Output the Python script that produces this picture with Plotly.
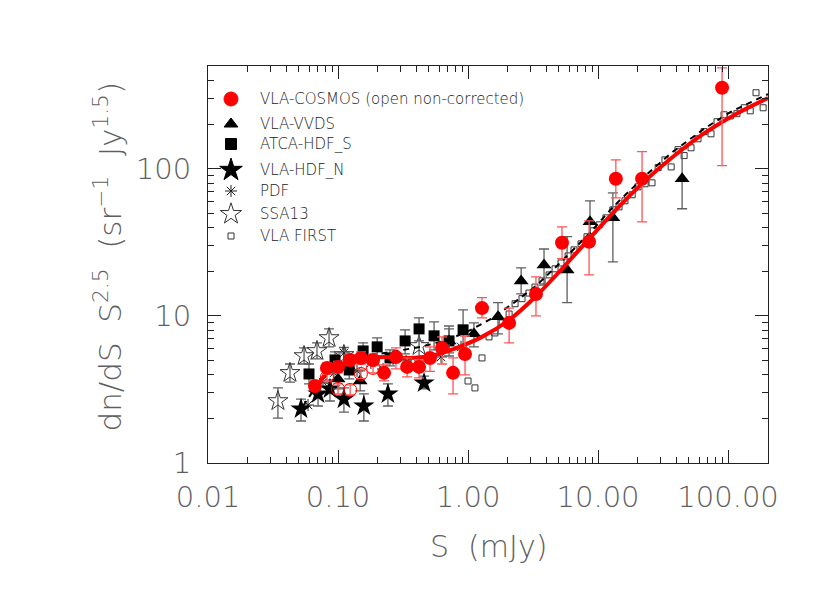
import plotly.graph_objects as go

# ---------------- data ----------------
# VLA-COSMOS, corrected (filled red circles)
cosmos_s = [0.0665, 0.0822, 0.100, 0.124, 0.150, 0.186, 0.226, 0.279, 0.340, 0.420, 0.510,
            0.631, 0.767, 0.948, 1.28, 2.07, 3.33, 5.28, 8.53, 13.7, 21.8, 89.9]
cosmos_n = [3.34, 4.43, 4.50, 5.02, 5.18, 5.02, 4.10, 5.26, 4.50, 4.50, 5.18,
            6.06, 4.10, 5.51, 11.3, 8.96, 14.1, 31.4, 31.9, 85.5, 85.5, 356]
cosmos_hi = [3.6, 4.8, 4.9, 5.4, 5.7, 5.5, 4.64, 6.06, 5.18, 5.02, 6.15,
             7.2, 5.18, 7.3, 13.3, 11.3, 18.4, 40.3, 44.3, 115, 131, 486]
cosmos_lo = [3.1, 4.0, 4.1, 4.6, 4.7, 4.6, 3.62, 4.36, 3.85, 3.79, 4.2,
             4.71, 2.95, 3.97, 9.7, 6.55, 10.0, 24.5, 19.0, 63.5, 43.6, 105]

# VLA-COSMOS, non-corrected (open red circles)
cosmos_nc_s = [0.0822, 0.100, 0.124, 0.150, 0.186]
cosmos_nc_n = [3.84, 3.19, 3.14, 4.03, 4.43]
cosmos_nc_hi = [4.1, 3.45, 3.4, 4.35, 4.8]
cosmos_nc_lo = [3.6, 2.95, 2.9, 3.75, 4.1]

# VLA-VVDS (triangles)
vvds_s = [0.100, 0.148, 0.714, 1.11, 1.70, 2.56, 3.84, 5.78, 8.67, 13.0, 44.3]
vvds_n = [3.73, 3.61, 6.76, 7.55, 9.85, 17.3, 22.2, 20.5, 43.6, 46.5, 85.5]
vvds_hi = [4.36, 4.23, 8.54, 8.96, 12.3, 21.2, 28.5, 34.6, 60.6, 68.7, 137]
vvds_lo = [3.19, 3.09, 5.34, 6.16, 7.55, 14.1, 16.2, 12.3, 30.5, 23.3, 53.5]

# ATCA-HDF_S (squares)
atca_s = [0.0598, 0.0948, 0.122, 0.156, 0.200, 0.251, 0.328, 0.420, 0.548, 0.714, 0.916]
atca_n = [4.03, 5.02, 4.29, 5.78, 6.16, 5.18, 6.76, 8.16, 7.32, 6.76, 8.04]
atca_hi = [4.71, 5.69, 4.95, 6.55, 7.08, 5.87, 8.04, 9.69, 9.11, 8.16, 11.0]
atca_lo = [3.45, 4.43, 3.73, 5.10, 5.34, 4.57, 5.52, 6.76, 5.87, 5.60, 5.87]

# VLA-HDF_N (filled stars)
hdfn_s = [0.0519, 0.0702, 0.0867, 0.111, 0.158, 0.242, 0.459]
hdfn_n = [2.33, 2.95, 3.19, 2.72, 2.44, 2.95, 3.50]
hdfn_hi = [2.72, 3.50, 3.67, 3.24, 2.95, 3.45, 3.90]
hdfn_lo = [1.93, 2.44, 2.64, 2.22, 1.93, 2.44, 3.19]

# PDF (asterisks)
pdf_s = [0.0588, 0.0767, 0.0931, 0.111, 0.140, 0.179, 0.222, 0.265, 0.334, 0.420, 0.620, 0.883]
pdf_n = [2.48, 3.55, 4.10, 5.60, 4.23, 4.79, 4.36, 5.10, 4.95, 4.64, 5.26, 6.16]

# SSA13 (open stars)
ssa_s = [0.0345, 0.0427, 0.0548, 0.0689, 0.0853, 0.111, 0.420]
ssa_n = [2.64, 4.10, 5.34, 5.78, 7.08, 5.43, 6.25]
ssa_hi = [3.24, 4.71, 6.06, 6.55, 8.16, 6.1, 7.9]
ssa_lo = [2.02, 3.55, 4.71, 5.10, 6.16, 4.8, 4.95]

# VLA FIRST (small open squares)
first_s = [1.00, 1.13, 1.28, 1.45, 1.61, 1.83, 2.07, 2.30, 2.60, 2.94, 3.27, 3.71, 4.20, 4.67,
           5.19, 5.88, 6.53, 7.40, 8.22, 9.16, 10.2, 11.5, 13.0, 14.5, 16.1, 18.3, 20.3, 23.0,
           26.0, 29.0, 32.7, 36.5, 41.2, 45.9, 51.9, 58.7, 65.3, 73.9, 82.2, 93.1, 104, 117,
           133, 148, 164, 186]
first_n = [3.61, 3.24, 5.18, 7.20, 7.66, 8.96, 10.3, 12.1, 13.1, 14.3, 15.7, 17.3, 19.0, 20.9,
           22.9, 25.6, 28.1, 30.9, 34.5, 37.9, 41.6, 46.4, 52.6, 55.1, 60.6, 66.6, 75.4, 79.1,
           80.3, 102, 115, 103, 135, 123, 139, 160, 179, 173, 209, 233, 229, 237,
           260, 248, 329, 260]

# fits: red = this work, dashed = previous
fit_s = [0.0643, 0.0822, 0.100, 0.124, 0.150, 0.226, 0.345, 0.519, 0.780, 1.28, 2.07, 3.33,
         5.28, 8.53, 13.3, 23.4, 36.5, 65.3, 119, 203]
fit_n = [3.09, 4.10, 4.57, 4.95, 5.10, 5.26, 5.18, 5.34, 5.97, 7.20, 9.38, 13.6,
         20.9, 33.4, 51.2, 84.1, 118, 174, 240, 303]
old_s = [0.0538, 0.0714, 0.0965, 0.150, 0.256, 0.435, 0.702, 1.05, 1.50, 2.26, 3.33, 5.28,
         8.53, 13.3, 23.4, 36.5, 65.3, 105, 158, 203]
old_n = [2.44, 3.55, 4.43, 5.26, 5.69, 6.16, 6.87, 8.04, 9.53, 12.3, 16.0, 23.6,
         36.2, 56.1, 90.8, 128, 187, 244, 290, 322]

legend_names = ["VLA-COSMOS (open non-corrected)", "VLA-VVDS", "ATCA-HDF_S", "VLA-HDF_N",
                "PDF", "SSA13", "VLA FIRST"]

FONT = "DejaVu Sans"
GRAY = "rgb(95,95,95)"
RED_BAR = "rgb(255,85,85)"


def errs(y, hi, lo, color):
    return dict(type="data", symmetric=False,
                array=[h - v for h, v in zip(hi, y)],
                arrayminus=[v - l for v, l in zip(y, lo)],
                color=color, thickness=1.3, width=5)


fig = go.Figure()

fig.add_trace(go.Scatter(x=first_s, y=first_n, mode="markers",
                         marker=dict(symbol="square-open", size=6, color="#333", line=dict(width=1))))
fig.add_trace(go.Scatter(x=ssa_s, y=ssa_n, mode="markers", error_y=errs(ssa_n, ssa_hi, ssa_lo, GRAY),
                         marker=dict(symbol="star-open", size=15, color="#333", line=dict(width=1))))
fig.add_trace(go.Scatter(x=pdf_s, y=pdf_n, mode="markers",
                         marker=dict(symbol="asterisk-open", size=10, color="#222", line=dict(width=1))))
fig.add_trace(go.Scatter(x=hdfn_s, y=hdfn_n, mode="markers", error_y=errs(hdfn_n, hdfn_hi, hdfn_lo, GRAY),
                         marker=dict(symbol="star", size=16, color="black")))
fig.add_trace(go.Scatter(x=atca_s, y=atca_n, mode="markers", error_y=errs(atca_n, atca_hi, atca_lo, GRAY),
                         marker=dict(symbol="square", size=11, color="black")))
fig.add_trace(go.Scatter(x=vvds_s, y=vvds_n, mode="markers", error_y=errs(vvds_n, vvds_hi, vvds_lo, GRAY),
                         marker=dict(symbol="triangle-up", size=13, color="black")))
fig.add_trace(go.Scatter(x=old_s, y=old_n, mode="lines", line=dict(color="black", width=2, dash="6px,5px")))
fig.add_trace(go.Scatter(x=fit_s, y=fit_n, mode="lines",
                         line=dict(color="red", width=4, shape="spline", smoothing=0.8)))
fig.add_trace(go.Scatter(x=cosmos_nc_s, y=cosmos_nc_n, mode="markers",
                         error_y=errs(cosmos_nc_n, cosmos_nc_hi, cosmos_nc_lo, RED_BAR),
                         marker=dict(symbol="circle-open", size=13, color="red", line=dict(width=1))))
fig.add_trace(go.Scatter(x=cosmos_s, y=cosmos_n, mode="markers",
                         error_y=errs(cosmos_n, cosmos_hi, cosmos_lo, RED_BAR),
                         marker=dict(symbol="circle", size=14, color="red")))

# legend keys, drawn on an overlay axis in pixel units of the plot area
key_y = [98, 123, 143, 169, 190, 213, 235]
key_sym = ["circle", "triangle-up", "square", "star", "asterisk-open", "star-open", "square-open"]
key_size = [14, 12, 11, 17, 10, 16, 6]
key_col = ["red", "black", "black", "black", "#222", "#333", "#333"]
fig.add_trace(go.Scatter(x=[230] * 7, y=key_y, mode="markers", xaxis="x2", yaxis="y2",
                         marker=dict(symbol=key_sym, size=key_size, color=key_col, opacity=1,
                                     line=dict(width=1, color=key_col))))
for name, yy in zip(legend_names, key_y):
    fig.add_annotation(x=257, y=yy, xref="x2", yref="y2", text=name, showarrow=False,
                       xanchor="left", yanchor="middle",
                       font=dict(family=FONT, size=15, color="#222", weight=200))

minor_x = [m * 10 ** k for k in range(-2, 3) for m in range(2, 10)]
minor_y = [m * 10 ** k for k in range(0, 3) for m in range(2, 10)]

axis_common = dict(type="log", showline=True, linecolor="#222", linewidth=1, mirror="allticks",
                   ticks="inside", ticklen=13, tickcolor="#222", showgrid=False, zeroline=False,
                   tickfont=dict(family=FONT, size=29, color=GRAY, weight=200))

fig.update_layout(
    width=830, height=593, showlegend=False,
    paper_bgcolor="white", plot_bgcolor="white",
    margin=dict(l=200, r=70, t=58, b=138),
    xaxis=dict(axis_common, range=[-2, 2.307],
               tickvals=[0.01, 0.1, 1, 10, 100], ticktext=["0.01", "0.10", "1.00", "10.00", "100.00"],
               minor=dict(ticks="inside", ticklen=6, tickcolor="#222", tickvals=minor_x),
               ticklabelstandoff=8),
    yaxis=dict(axis_common, range=[0, 2.699],
               tickvals=[1, 10, 100], ticktext=["1", "10", "100"],
               minor=dict(ticks="inside", ticklen=6, tickcolor="#222", tickvals=minor_y),
               ticklabelstandoff=10),
    xaxis2=dict(overlaying="x", range=[207, 767], visible=False),
    yaxis2=dict(overlaying="y", range=[462, 65], visible=False),
)

fig.add_annotation(x=0.5, y=-0.21, xref="paper", yref="paper", text="S  (mJy)", showarrow=False,
                   yanchor="middle", font=dict(family=FONT, size=30, color=GRAY, weight=200))
fig.add_annotation(x=-0.218, y=0.52, xref="paper", yref="paper", textangle=-90, showarrow=False,
                   text="dn/dS  S<sup>2.5</sup>  (sr<sup>\u22121</sup>  Jy<sup>1.5</sup>)",
                   font=dict(family=FONT, size=31, color=GRAY, weight=200))

fig.write_html("out.html")
